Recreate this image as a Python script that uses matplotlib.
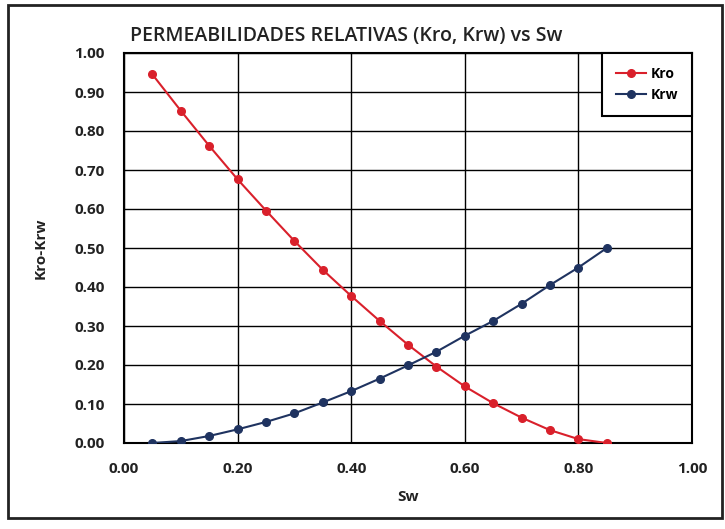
import matplotlib
matplotlib.use('Agg')
import matplotlib.pyplot as plt
from matplotlib.patches import Rectangle

sw = [0.05, 0.10, 0.15, 0.20, 0.25, 0.30, 0.35, 0.40, 0.45,
      0.50, 0.55, 0.60, 0.65, 0.70, 0.75, 0.80, 0.85]
kro = [0.945, 0.852, 0.762, 0.676, 0.596, 0.518, 0.444, 0.377, 0.313,
       0.252, 0.196, 0.145, 0.102, 0.065, 0.033, 0.010, 0.000]
krw = [0.000, 0.005, 0.018, 0.035, 0.054, 0.076, 0.104, 0.133, 0.165,
       0.199, 0.234, 0.275, 0.313, 0.357, 0.405, 0.450, 0.500]
xticks = [0.0, 0.2, 0.4, 0.6, 0.8, 1.0]
yticks = [0.0, 0.1, 0.2, 0.3, 0.4, 0.5, 0.6, 0.7, 0.8, 0.9, 1.0]

plt.rcParams['font.family'] = ['Open Sans', 'DejaVu Sans']

W, H = 725, 529
fig = plt.figure(figsize=(W / 100, H / 100), dpi=100)
ax = fig.add_axes([124 / W, 1 - 443 / H, (692 - 124) / W, (443 - 53) / H])

red = '#d9202b'
navy = '#1f3360'
ax.plot(sw, kro, color=red, marker='o', markersize=5.5, linewidth=1.5, label='Kro', zorder=3)
ax.plot(sw, krw, color=navy, marker='o', markersize=5.5, linewidth=1.5, label='Krw', zorder=3)

ax.set_xlim(0, 1)
ax.set_ylim(0, 1)
ax.set_xticks(xticks)
ax.set_yticks(yticks)
ax.set_xticklabels(['%.2f' % v for v in xticks], fontsize=11, fontweight='bold', color='#222222')
ax.set_yticklabels(['%.2f' % v for v in yticks], fontsize=11, fontweight='bold', color='#222222')
ax.tick_params(axis='y', length=0, pad=14)
ax.tick_params(axis='x', length=0, pad=14)
ax.grid(True, color='black', linewidth=1.0)
ax.set_axisbelow(True)
for s in ax.spines.values():
    s.set_linewidth(1.5)
    s.set_color('black')

ax.set_xlabel('Sw', fontsize=11, fontweight='bold', color='#222222', labelpad=10)
ax.set_ylabel('Kro-Krw', fontsize=11, fontweight='bold', color='#222222', labelpad=19)
fig.text(130 / W, 1 - 36 / H, 'PERMEABILIDADES RELATIVAS (Kro, Krw) vs Sw',
         fontsize=14, fontweight='semibold', color='#222222', va='center', ha='left')

leg = ax.legend(loc='upper right', bbox_to_anchor=(1.0, 1.0), borderaxespad=0,
                fancybox=False, framealpha=1, edgecolor='black',
                handlelength=2.2, handletextpad=0.3, borderpad=1.0, labelspacing=0.5,
                prop={'weight': 'bold', 'size': 10})
leg.get_frame().set_linewidth(1.5)

fig.patches.append(Rectangle((8 / W, 1 - 518 / H), (722 - 8) / W, (518 - 5) / H,
                             transform=fig.transFigure, fill=False,
                             edgecolor='#222222', linewidth=2))

fig.savefig('out.png', dpi=100)
